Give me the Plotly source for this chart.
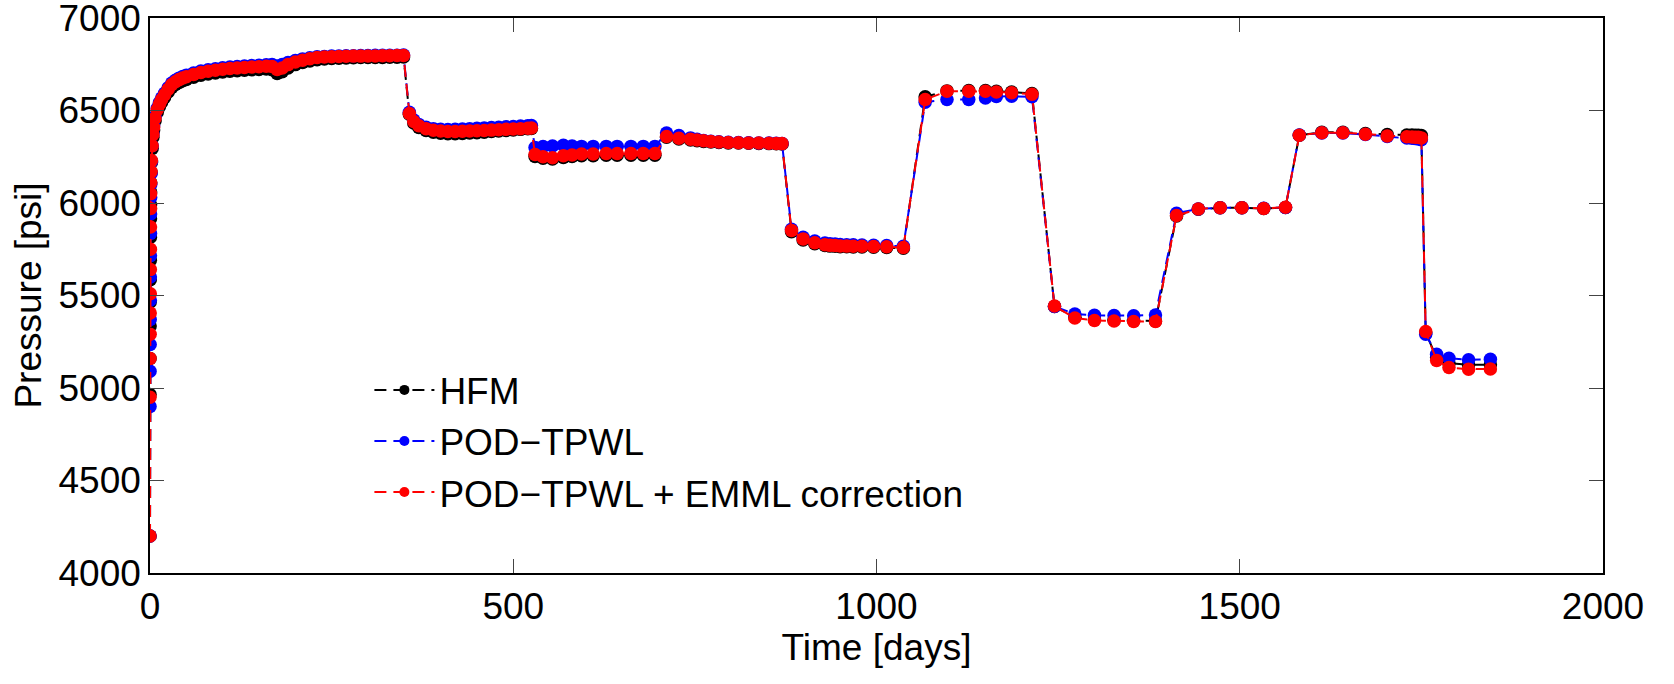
import plotly.graph_objects as go

# ---------------- data ----------------
# time in days; the first block is the near-vertical start-up stack at t ~ 0
t_stack = [0, 0.05, 0.1, 0.2, 0.3, 0.4, 0.5, 0.6, 0.7, 0.8, 0.9, 1.0]
t_seg1 = [1.5, 2, 3, 4, 5, 7, 10, 13, 16, 20, 25, 30, 35, 40, 45, 50, 60, 70, 80, 90,
          100, 110, 120, 130, 140, 150, 160, 168, 175, 182, 190, 200, 210, 220, 230, 240,
          250, 260, 270, 280, 290, 300, 310, 320, 330, 340, 349]
t_seg2 = [357, 363, 370, 380, 390, 400, 410, 420, 430, 440, 450, 460, 470, 480, 490, 500, 510, 520, 525]
t_seg3 = [530, 541, 554, 569, 581, 594, 610, 628, 643, 662, 679, 695]
t_seg4 = [711, 728, 744, 753, 762, 772, 783, 796, 810, 824, 838, 852, 862, 870]
t_seg5 = [883, 899, 915, 929, 936, 943, 950, 959, 968, 980, 996, 1014, 1037]
t_seg6 = [1067, 1097, 1127, 1150, 1165, 1186, 1214]
t_seg7 = [1245, 1273, 1300, 1327, 1354, 1384]
t_seg8 = [1413, 1443, 1473, 1503, 1533, 1563]
t_seg9 = [1582, 1613, 1642, 1673, 1703, 1730, 1737, 1742, 1746, 1750]
t_seg10 = [1756, 1771, 1788, 1815, 1845]

hfm_stack = [4200, 4965, 5160, 5335, 5465, 5585, 5690, 5815, 5915, 5990, 6060, 6110]
hfm_seg1 = [6165, 6220, 6295, 6355, 6395, 6445, 6490, 6520, 6545, 6570, 6600, 6625, 6640, 6652,
            6661, 6668, 6680, 6690, 6697, 6703, 6708, 6712, 6715, 6718, 6720, 6722, 6724, 6720,
            6700, 6710, 6730, 6748, 6760, 6768, 6774, 6778, 6781, 6783, 6784, 6785, 6786, 6786,
            6787, 6787, 6788, 6788, 6789]
hfm_seg2 = [6480, 6432, 6408, 6392, 6382, 6377, 6375, 6375, 6376, 6378, 6380, 6383, 6386, 6389,
            6392, 6395, 6398, 6401, 6403]
hfm_seg3 = [6252, 6242, 6238, 6246, 6252, 6256, 6256, 6258, 6258, 6258, 6258, 6258]
hfm_seg4 = [6355, 6346, 6340, 6337, 6333, 6330, 6327, 6325, 6324, 6323, 6322, 6321, 6320, 6319]
hfm_seg5 = [5845, 5800, 5780, 5770, 5767, 5766, 5764, 5763, 5762, 5762, 5761, 5760, 5755]
hfm_seg6 = [6574, 6606, 6608, 6608, 6604, 6600, 6592]
hfm_seg7 = [5440, 5382, 5370, 5366, 5364, 5362]
hfm_seg8 = [5930, 5966, 5974, 5974, 5970, 5976]
hfm_seg9 = [6366, 6382, 6382, 6376, 6370, 6368, 6367, 6366, 6366, 6365]
hfm_seg10 = [5298, 5165, 5135, 5125, 5126]

pod_stack = [4200, 4900, 5090, 5235, 5370, 5475, 5600, 5715, 5835, 5940, 6030, 6100]
pod_seg1 = [6160, 6225, 6310, 6375, 6418, 6468, 6512, 6543, 6568, 6593, 6623, 6648, 6663, 6675,
            6684, 6691, 6703, 6713, 6720, 6726, 6731, 6735, 6738, 6741, 6743, 6745, 6747, 6748,
            6740, 6748, 6760, 6770, 6779, 6785, 6790, 6792, 6794, 6795, 6796, 6796, 6797, 6797,
            6798, 6798, 6799, 6799, 6800]
pod_seg2 = [6490, 6448, 6425, 6410, 6402, 6398, 6397, 6398, 6400, 6402, 6404, 6406, 6408, 6410,
            6412, 6414, 6416, 6418, 6419]
pod_seg3 = [6300, 6305, 6308, 6312, 6308, 6306, 6306, 6306, 6306, 6306, 6306, 6306]
pod_seg4 = [6378, 6365, 6352, 6345, 6338, 6334, 6331, 6328, 6327, 6326, 6325, 6324, 6323, 6322]
pod_seg5 = [5858, 5815, 5795, 5784, 5780, 5778, 5776, 5775, 5774, 5773, 5772, 5770, 5766]
pod_seg6 = [6545, 6560, 6560, 6568, 6576, 6577, 6574]
pod_seg7 = [5440, 5400, 5393, 5392, 5391, 5395]
pod_seg8 = [5945, 5968, 5974, 5974, 5972, 5976]
pod_seg9 = [6368, 6378, 6378, 6370, 6360, 6352, 6350, 6348, 6346, 6342]
pod_seg10 = [5290, 5182, 5161, 5153, 5155]

emml_stack = [4200, 4950, 5160, 5290, 5405, 5510, 5640, 5750, 5870, 5970, 6050, 6110]
emml_seg1 = [6170, 6230, 6310, 6370, 6410, 6460, 6505, 6535, 6560, 6585, 6615, 6640, 6655, 6667,
             6676, 6683, 6695, 6705, 6712, 6718, 6723, 6727, 6730, 6733, 6735, 6737, 6739, 6738,
             6722, 6730, 6748, 6762, 6772, 6780, 6786, 6789, 6791, 6792, 6793, 6794, 6794, 6795,
             6795, 6796, 6796, 6797, 6797]
emml_seg2 = [6484, 6440, 6418, 6402, 6393, 6389, 6387, 6387, 6388, 6389, 6390, 6392, 6394, 6396,
             6398, 6400, 6402, 6404, 6405]
emml_seg3 = [6262, 6250, 6245, 6255, 6260, 6265, 6265, 6268, 6268, 6268, 6268, 6268]
emml_seg4 = [6359, 6350, 6345, 6341, 6336, 6333, 6330, 6327, 6326, 6325, 6324, 6323, 6322, 6321]
emml_seg5 = [5852, 5806, 5785, 5774, 5771, 5770, 5768, 5767, 5766, 5766, 5765, 5764, 5760]
emml_seg6 = [6559, 6604, 6604, 6604, 6600, 6596, 6588]
emml_seg7 = [5443, 5378, 5365, 5362, 5360, 5359]
emml_seg8 = [5932, 5968, 5975, 5975, 5970, 5977]
emml_seg9 = [6366, 6380, 6380, 6372, 6362, 6358, 6357, 6356, 6355, 6352]
emml_seg10 = [5305, 5149, 5111, 5102, 5103]

x_ticks = [0, 500, 1000, 1500, 2000]
y_ticks = [4000, 4500, 5000, 5500, 6000, 6500, 7000]
series_names = ["HFM", "POD\u2212TPWL", "POD\u2212TPWL + EMML correction"]
series_colors = ["#000000", "#0000ff", "#ff0000"]

# ---------------- assemble ----------------
time_days = (t_stack + t_seg1 + t_seg2 + t_seg3 + t_seg4 + t_seg5 + t_seg6 + t_seg7
             + t_seg8 + t_seg9 + t_seg10)
hfm = (hfm_stack + hfm_seg1 + hfm_seg2 + hfm_seg3 + hfm_seg4 + hfm_seg5 + hfm_seg6
       + hfm_seg7 + hfm_seg8 + hfm_seg9 + hfm_seg10)
pod = (pod_stack + pod_seg1 + pod_seg2 + pod_seg3 + pod_seg4 + pod_seg5 + pod_seg6
       + pod_seg7 + pod_seg8 + pod_seg9 + pod_seg10)
emml = (emml_stack + emml_seg1 + emml_seg2 + emml_seg3 + emml_seg4 + emml_seg5 + emml_seg6
        + emml_seg7 + emml_seg8 + emml_seg9 + emml_seg10)
assert len(time_days) == len(hfm) == len(pod) == len(emml)

FONT = "Liberation Sans, Arial, sans-serif"
fig = go.Figure()
for name, color, vals in zip(series_names, series_colors, [hfm, pod, emml]):
    fig.add_trace(go.Scatter(
        x=time_days, y=vals, mode="lines+markers", name=name, showlegend=False,
        line=dict(color=color, width=2, dash="12px,7px"),
        marker=dict(color=color, size=13.5, line=dict(width=0)),
    ))
# legend entries (smaller markers as in the reference legend)
for name, color in zip(series_names, series_colors):
    fig.add_trace(go.Scatter(
        x=[None], y=[None], mode="lines+markers", name=name,
        line=dict(color=color, width=2, dash="12px,7px"),
        marker=dict(color=color, size=10, line=dict(width=0)),
    ))

axis_common = dict(
    showline=True, linecolor="black", linewidth=1.5, mirror="ticks",
    ticks="inside", ticklen=14, tickwidth=1, tickcolor="#444",
    showgrid=False, zeroline=False, ticklabeloverflow="allow", automargin=False,
    tickfont=dict(family=FONT, size=37, color="black"),
)
fig.update_xaxes(range=[0, 2000.01], tickvals=x_ticks, ticktext=[str(v) for v in x_ticks],
                 title=dict(text="Time [days]", font=dict(family=FONT, size=37, color="black"),
                            standoff=2),
                 **axis_common)
fig.update_yaxes(range=[3999.99, 7000.02], tickvals=y_ticks, ticktext=[str(v) for v in y_ticks],
                 title=dict(text="Pressure [psi]", font=dict(family=FONT, size=37, color="black"),
                            standoff=6),
                 **axis_common)

fig.update_layout(
    width=1674, height=684,
    margin=dict(l=150, r=71, t=18, b=111),
    plot_bgcolor="white", paper_bgcolor="white",
    font=dict(family=FONT, size=37, color="black"),
    legend=dict(x=0.151, y=0.385, xanchor="left", yanchor="top",
                bgcolor="rgba(0,0,0,0)", borderwidth=0, itemwidth=60,
                font=dict(family=FONT, size=37, color="black"), tracegroupgap=0),
)

fig.write_html("out.html")
